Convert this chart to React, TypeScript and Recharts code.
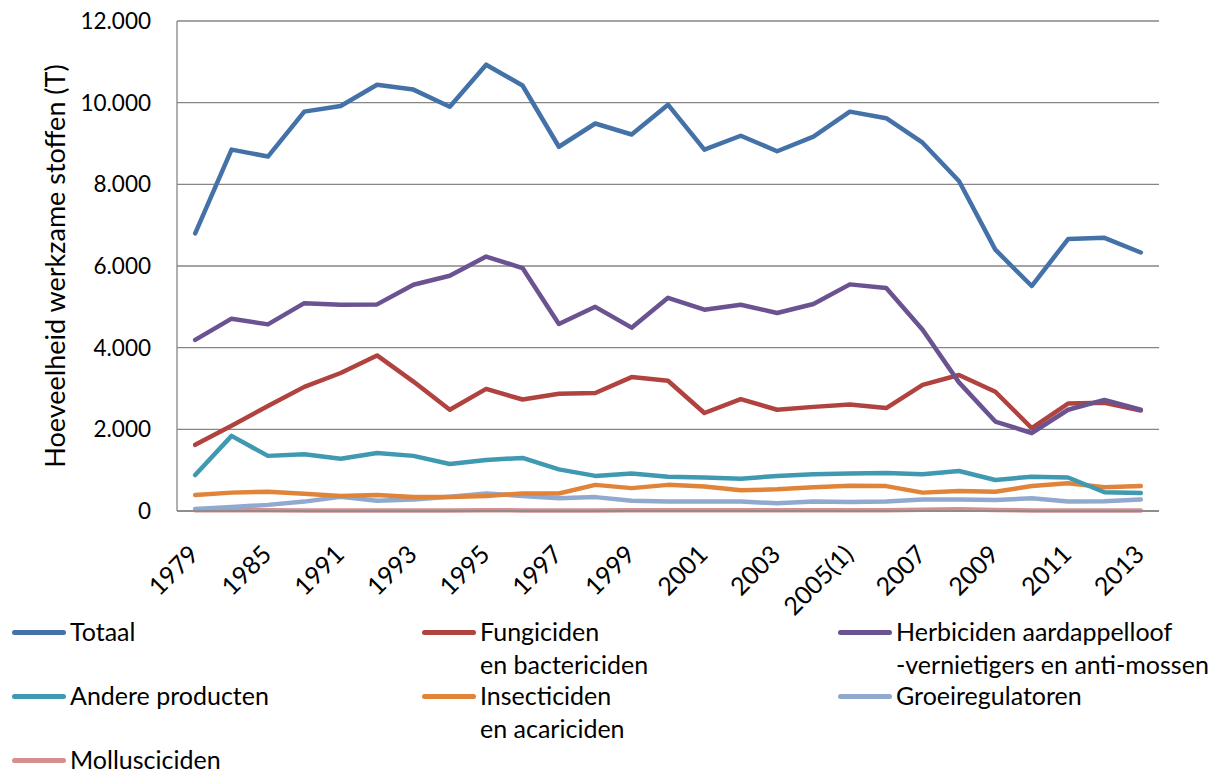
import { CartesianGrid, Legend, Line, LineChart, XAxis, YAxis } from "recharts";

const years = [
  "1979", "1984", "1985", "1990", "1991", "1992", "1993", "1994", "1995",
  "1996", "1997", "1998", "1999", "2000", "2001", "2002", "2003", "2004",
  "2005(1)", "2006", "2007", "2008", "2009", "2010", "2011", "2012", "2013",
];

const totaal = [6800, 8850, 8680, 9780, 9920, 10440, 10320, 9900, 10930, 10420, 8920, 9490, 9220, 9950, 8850, 9190, 8810, 9170, 9780, 9620, 9020, 8080, 6400, 5510, 6660, 6690, 6330];
const fungiciden = [1620, 2090, 2570, 3040, 3380, 3810, 3170, 2480, 2990, 2730, 2870, 2890, 3280, 3190, 2400, 2740, 2480, 2550, 2610, 2520, 3090, 3330, 2920, 2030, 2630, 2650, 2460];
const herbiciden = [4190, 4710, 4570, 5090, 5050, 5060, 5540, 5760, 6230, 5950, 4580, 5000, 4490, 5220, 4930, 5050, 4850, 5070, 5550, 5460, 4440, 3150, 2190, 1910, 2480, 2720, 2480];
const andere = [880, 1840, 1350, 1390, 1280, 1420, 1350, 1150, 1250, 1300, 1020, 860, 920, 840, 820, 790, 860, 900, 920, 930, 900, 980, 760, 840, 820, 460, 440];
const insecticiden = [390, 450, 470, 420, 370, 390, 340, 340, 370, 430, 430, 640, 560, 640, 600, 510, 530, 580, 620, 610, 450, 490, 470, 610, 680, 580, 610];
const groei = [50, 100, 150, 230, 350, 250, 280, 350, 430, 370, 310, 340, 250, 230, 230, 230, 190, 230, 220, 230, 280, 280, 270, 310, 230, 240, 280];
const mollusc = [20, 20, 20, 15, 15, 15, 15, 15, 20, 15, 10, 15, 20, 20, 20, 20, 20, 20, 20, 20, 30, 40, 25, 15, 15, 15, 15];

const yTicks = [0, 2000, 4000, 6000, 8000, 10000, 12000];

// volgorde = legenda (rij voor rij, 3 kolommen)
const series = [
  { key: "totaal", label: ["Totaal"], color: "#4472A8", values: totaal },
  { key: "fungiciden", label: ["Fungiciden", "en bactericiden"], color: "#B0433F", values: fungiciden },
  { key: "herbiciden", label: ["Herbiciden aardappelloof", "-vernietigers en anti-mossen"], color: "#6B5290", values: herbiciden },
  { key: "andere", label: ["Andere producten"], color: "#3F99B1", values: andere },
  { key: "insecticiden", label: ["Insecticiden", "en acariciden"], color: "#E0843A", values: insecticiden },
  { key: "groei", label: ["Groeiregulatoren"], color: "#8FA9CF", values: groei },
  { key: "mollusc", label: ["Mollusciciden"], color: "#D48F8E", values: mollusc },
];

// teken-volgorde: kleine reeksen eerst, totaal bovenop
const drawOrder = ["mollusc", "groei", "insecticiden", "andere", "fungiciden", "herbiciden", "totaal"];

const data = years.map((year, i) => {
  const row: Record<string, string | number> = { year };
  series.forEach((s) => (row[s.key] = s.values[i]));
  return row;
});

const FONT = "Lato, 'Open Sans', sans-serif";

const fmt = (v: number) => String(v).replace(/\B(?=(\d{3})+(?!\d))/g, ".");

function YearTick({ x, y, payload }: any) {
  return (
    <g transform={`translate(${x + 5},${y + 37})`}>
      <text
        x={0}
        y={0}
        textAnchor="end"
        transform="rotate(-45)"
        fill="#000"
        fontSize={25}
        fontFamily={FONT}
      >
        {payload.value}
      </text>
    </g>
  );
}

function LegendBlock() {
  return (
    <div
      style={{
        display: "grid",
        gridTemplateColumns: "410px 416px 393px",
        gridAutoRows: "64px",
        paddingLeft: 4,
        fontFamily: FONT,
        fontSize: 25,
        lineHeight: "31.5px",
        color: "#000",
      }}
    >
      {series.map((s) => (
        <div key={s.key} style={{ display: "flex", alignItems: "flex-start" }}>
          <div
            style={{
              width: 54,
              height: 5,
              marginTop: 13.5,
              borderRadius: 3,
              background: s.color,
              flexShrink: 0,
            }}
          />
          <div style={{ marginLeft: 4, whiteSpace: "nowrap" }}>
            {s.label.map((l) => (
              <div key={l} style={{ height: 32.5 }}>{l}</div>
            ))}
          </div>
        </div>
      ))}
    </div>
  );
}

export default function App() {
  return (
    <LineChart
      width={1219}
      height={765}
      data={data}
      margin={{ top: 13, right: 68, left: 0, bottom: 162 }}
    >
      <CartesianGrid vertical={false} stroke="#868686" strokeWidth={1.3} />
      <XAxis
        dataKey="year"
        scale="band"
        interval={1}
        height={100}
        tick={<YearTick />}
        tickLine={false}
        axisLine={{ stroke: "#868686", strokeWidth: 1.3 }}
      />
      <YAxis
        width={169}
        domain={[0, 12000]}
        ticks={yTicks}
        tickFormatter={fmt}
        tickLine={false}
        tickSize={0}
        tickMargin={26}
        axisLine={{ stroke: "#868686", strokeWidth: 1.3 }}
        tick={{ fill: "#000", fontSize: 22.5, fontFamily: FONT }}
        label={{
          value: "Hoeveelheid werkzame stoffen (T)",
          angle: -90,
          position: "insideLeft",
          offset: 47,
          style: { textAnchor: "middle", fontSize: 27, fontFamily: FONT, fill: "#000" },
        }}
      />
      <Legend
        layout="horizontal"
        verticalAlign="middle"
        align="center"
        wrapperStyle={{ top: 608, left: 0, width: 1219 }}
        content={() => <LegendBlock />}
      />
      {drawOrder.map((k) => {
        const s = series.find((x) => x.key === k)!;
        return (
          <Line
            key={s.key}
            type="linear"
            dataKey={s.key}
            stroke={s.color}
            strokeWidth={4.5}
            strokeLinecap="round"
            strokeLinejoin="round"
            dot={false}
            isAnimationActive={false}
          />
        );
      })}
    </LineChart>
  );
}
